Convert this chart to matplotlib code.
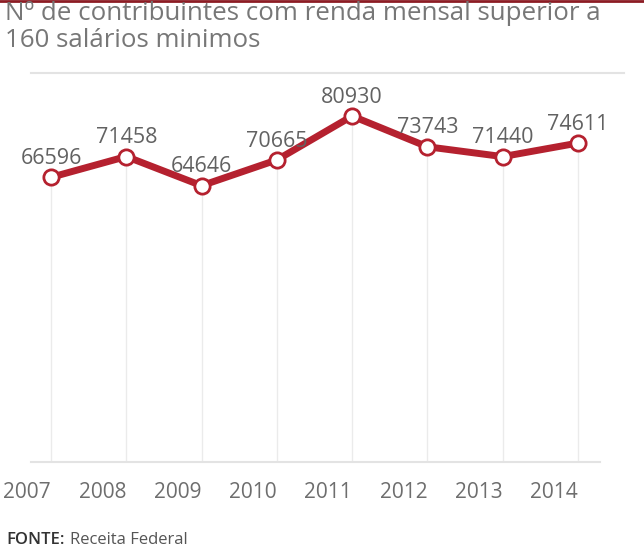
import matplotlib
matplotlib.use('Agg')
import matplotlib.pyplot as plt
from matplotlib.lines import Line2D
import matplotlib.transforms as mtransforms

years = [2007, 2008, 2009, 2010, 2011, 2012, 2013, 2014]
contribuintes = [66596, 71458, 64646, 70665, 80930, 73743, 71440, 74611]
titulo = 'Nº de contribuintes com renda mensal superior a\n160 salários minimos'

RED = '#b5212f'
GRAY = '#626262'
W, H = 644, 548

plt.rcParams['font.family'] = ['Open Sans', 'DejaVu Sans']

fig = plt.figure(figsize=(W / 100, H / 100), dpi=100)

# axes box in pixels: left 31, right 600, top 73, bottom 462
px_per_year = (578 - 51) / 7
ax = fig.add_axes([31 / W, (H - 462) / H, (600 - 31) / W, (462 - 73) / H])
ax.set_xlim(2007 - (51 - 31) / px_per_year, 2014 + (600 - 578) / px_per_year)
ax.set_ylim(0, 91000)
for s in ax.spines.values():
    s.set_visible(False)
ax.set_xticks([])
ax.set_yticks([])

# drop lines from baseline to each point
ax.vlines(years, 0, contribuintes, color='#ebebeb', lw=1, zorder=1)
ax.plot(years, contribuintes, color=RED, lw=5, zorder=2)
ax.plot(years, contribuintes, 'o', ms=11, mfc='white', mec=RED, mew=2, zorder=3)

for x, y in zip(years, contribuintes):
    ax.annotate(str(y), (x, y), xytext=(0, 6), textcoords='offset points',
                ha='center', va='bottom', fontsize=15.5, color=GRAY, zorder=4)

# year labels, right aligned at the point
trans = mtransforms.blended_transform_factory(ax.transData, fig.transFigure)
for x in years:
    ax.text(x, (H - 492) / H, str(x), transform=trans, ha='right', va='center',
            fontsize=15, color='#6e6e6e', clip_on=False)

# baseline and top rule
fig.add_artist(Line2D([31 / W, 600 / W], [(H - 462) / H] * 2, color='#e3e3e3', lw=1.5))
fig.add_artist(Line2D([31 / W, 624 / W], [(H - 73) / H] * 2, color='#e3e3e3', lw=1.5))
fig.add_artist(Line2D([0, 1], [1 - 1 / H] * 2, color='#8c1c24', lw=2))

fig.text(5 / W, 1 - 27 / H, titulo, ha='left', va='center', fontsize=18.6,
         color='#777777', linespacing=1.12)

t = fig.text(6 / W, 1 - 540 / H, 'FONTE:', ha='left', va='center', fontsize=12,
             color='#333333', fontweight='semibold')
fig.canvas.draw()
bb = t.get_window_extent()
fig.text((bb.x1 + 5) / W, 1 - 540 / H, 'Receita Federal', ha='left', va='center',
         fontsize=12, color='#555555')

fig.savefig('out.png', dpi=100)
